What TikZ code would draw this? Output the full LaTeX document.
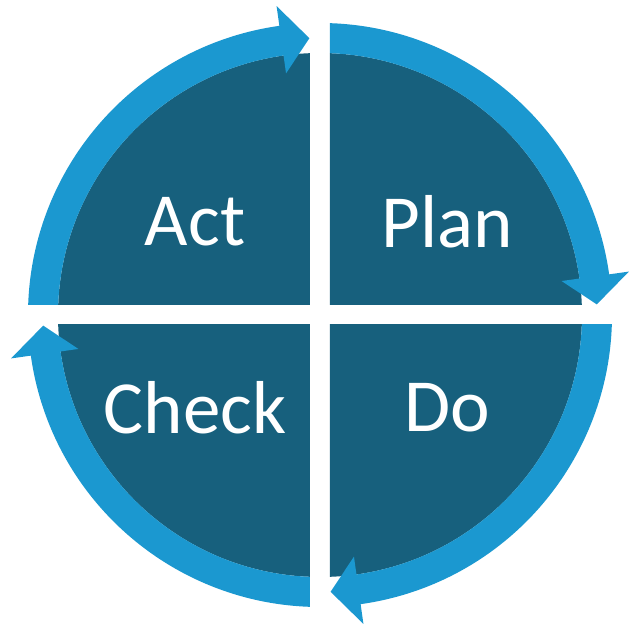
\documentclass[tikz,border=0pt]{standalone}
\usepackage{fontspec}
\setmainfont{Carlito}
\definecolor{quaddark}{HTML}{17607D}
\definecolor{ringblue}{HTML}{1B98D0}
\begin{document}
\begin{tikzpicture}[x=1pt, y=1pt,
    label/.style={text=white, font=\fontsize{75}{75}\selectfont}]
    \useasboundingbox (-320,-324) rectangle (320,315);
    % four quadrants, each with its arrow ring
    \foreach \rot in {0,-90,-180,-270} {
        \begin{scope}[rotate=\rot]
            \clip (10,10) rectangle (400,400);
            \fill[quaddark] (0,0) circle (262);
            \fill[ringblue] (90:292) arc (90:8:292) -- (8:312) -- (2.2:277)
                -- (8:244) -- (8:262) arc (8:90:262) -- cycle;
        \end{scope}
    }
    % labels
    \node[label] (plan) at (127,93) {Plan};
    \node[label] (act) at (-125,93) {Act};
    \node[label] (check) at (-125,-93) {Check};
    \node[label] (do) at (127,-93) {Do};
\end{tikzpicture}
\end{document}
